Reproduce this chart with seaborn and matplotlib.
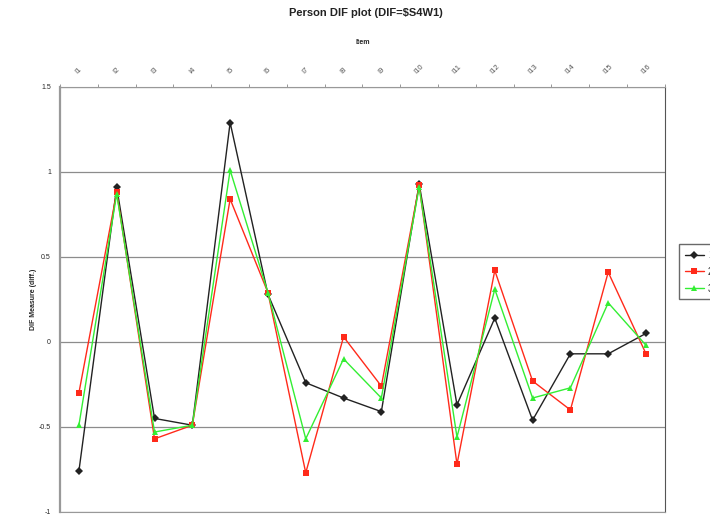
import pandas as pd
import numpy as np
import matplotlib
matplotlib.use('Agg')
import matplotlib.pyplot as plt
import seaborn as sns

# данные
items = ['I1', 'I2', 'I3', 'I4', 'I5', 'I6', 'I7', 'I8',
         'I9', 'I10', 'I11', 'I12', 'I13', 'I14', 'I15', 'I16']
groups = ['1', '2', '3']
dif_1 = [-0.76, 0.91, -0.45, -0.49, 1.29, 0.28, -0.24, -0.33,
         -0.41, 0.93, -0.37, 0.14, -0.46, -0.07, -0.07, 0.05]
dif_2 = [-0.30, 0.88, -0.57, -0.49, 0.84, 0.29, -0.77, 0.03,
         -0.26, 0.92, -0.72, 0.42, -0.23, -0.40, 0.41, -0.07]
dif_3 = [-0.49, 0.87, -0.53, -0.49, 1.01, 0.29, -0.57, -0.10,
         -0.33, 0.91, -0.56, 0.31, -0.33, -0.27, 0.23, -0.02]
y_ticks = [-1, -0.5, 0, 0.5, 1, 1.5]
y_tick_labels = ['-1', '-0.5', '0', '0.5', '1', '1.5']

df = pd.DataFrame({
    'pos': list(range(len(items))) * 3,
    'dif': dif_1 + dif_2 + dif_3,
    'group': [g for g in groups for _ in items],
})

sns.set_style('white')
plt.rcParams['font.family'] = ['Liberation Sans', 'DejaVu Sans']

fig = plt.figure(figsize=(7.1, 5.14), dpi=100)
ax = fig.add_axes([0.0845, 0.004, 0.852, 0.827])

palette = {'1': '#222222', '2': '#ff2a1a', '3': '#33ee33'}
markers = {'1': 'D', '2': 's', '3': '^'}
sns.lineplot(data=df, x='pos', y='dif', hue='group', style='group',
             palette=palette, markers=markers, dashes=False,
             markersize=4, linewidth=1.0, markeredgewidth=0,
             ax=ax, zorder=3)

ax.set_xlim(-0.5, len(items) - 0.5)
ax.set_ylim(-1, 1.5)
ax.set_yticks(y_ticks)
ax.set_yticklabels(y_tick_labels, fontsize=5)
ax.yaxis.grid(True, color='#8c8c8c', linewidth=0.9)
ax.xaxis.grid(False)

ax.xaxis.tick_top()
ax.xaxis.set_label_position('top')
ax.set_xticks(range(len(items)))
ax.set_xticklabels(items, rotation=45, fontsize=5.5, color='#555555')
ax.tick_params(axis='x', length=0, pad=8)
ax.tick_params(axis='y', length=3, color='#888888')
ax.set_xticks(np.arange(-0.5, len(items)), minor=True)
ax.tick_params(axis='x', which='minor', length=2, color='#888888', top=True)

ax.set_xlabel('Item', fontsize=5, fontweight='bold', labelpad=14)
ax.set_ylabel('DIF Measure (diff.)', fontsize=5, fontweight='bold', labelpad=1)

for side in ['left', 'top', 'bottom']:
    ax.spines[side].set_color('#999999')
ax.spines['left'].set_linewidth(1.6)
ax.spines['right'].set_color('#555555')

fig.suptitle('Person DIF plot (DIF=\\$S4W1)', x=0.515, y=0.985,
             fontsize=8, fontweight='bold', color='#222222')

# легенда, как на исходнике, уходит за правый край
leg = ax.legend(loc='center left', bbox_to_anchor=(1.015, 0.565),
                fontsize=7, frameon=True, fancybox=False,
                edgecolor='#444444', handlelength=2.0, borderpad=0.6,
                labelspacing=0.7, handletextpad=0.4)
leg.get_frame().set_linewidth(1.0)

fig.savefig('out.png', dpi=100)
